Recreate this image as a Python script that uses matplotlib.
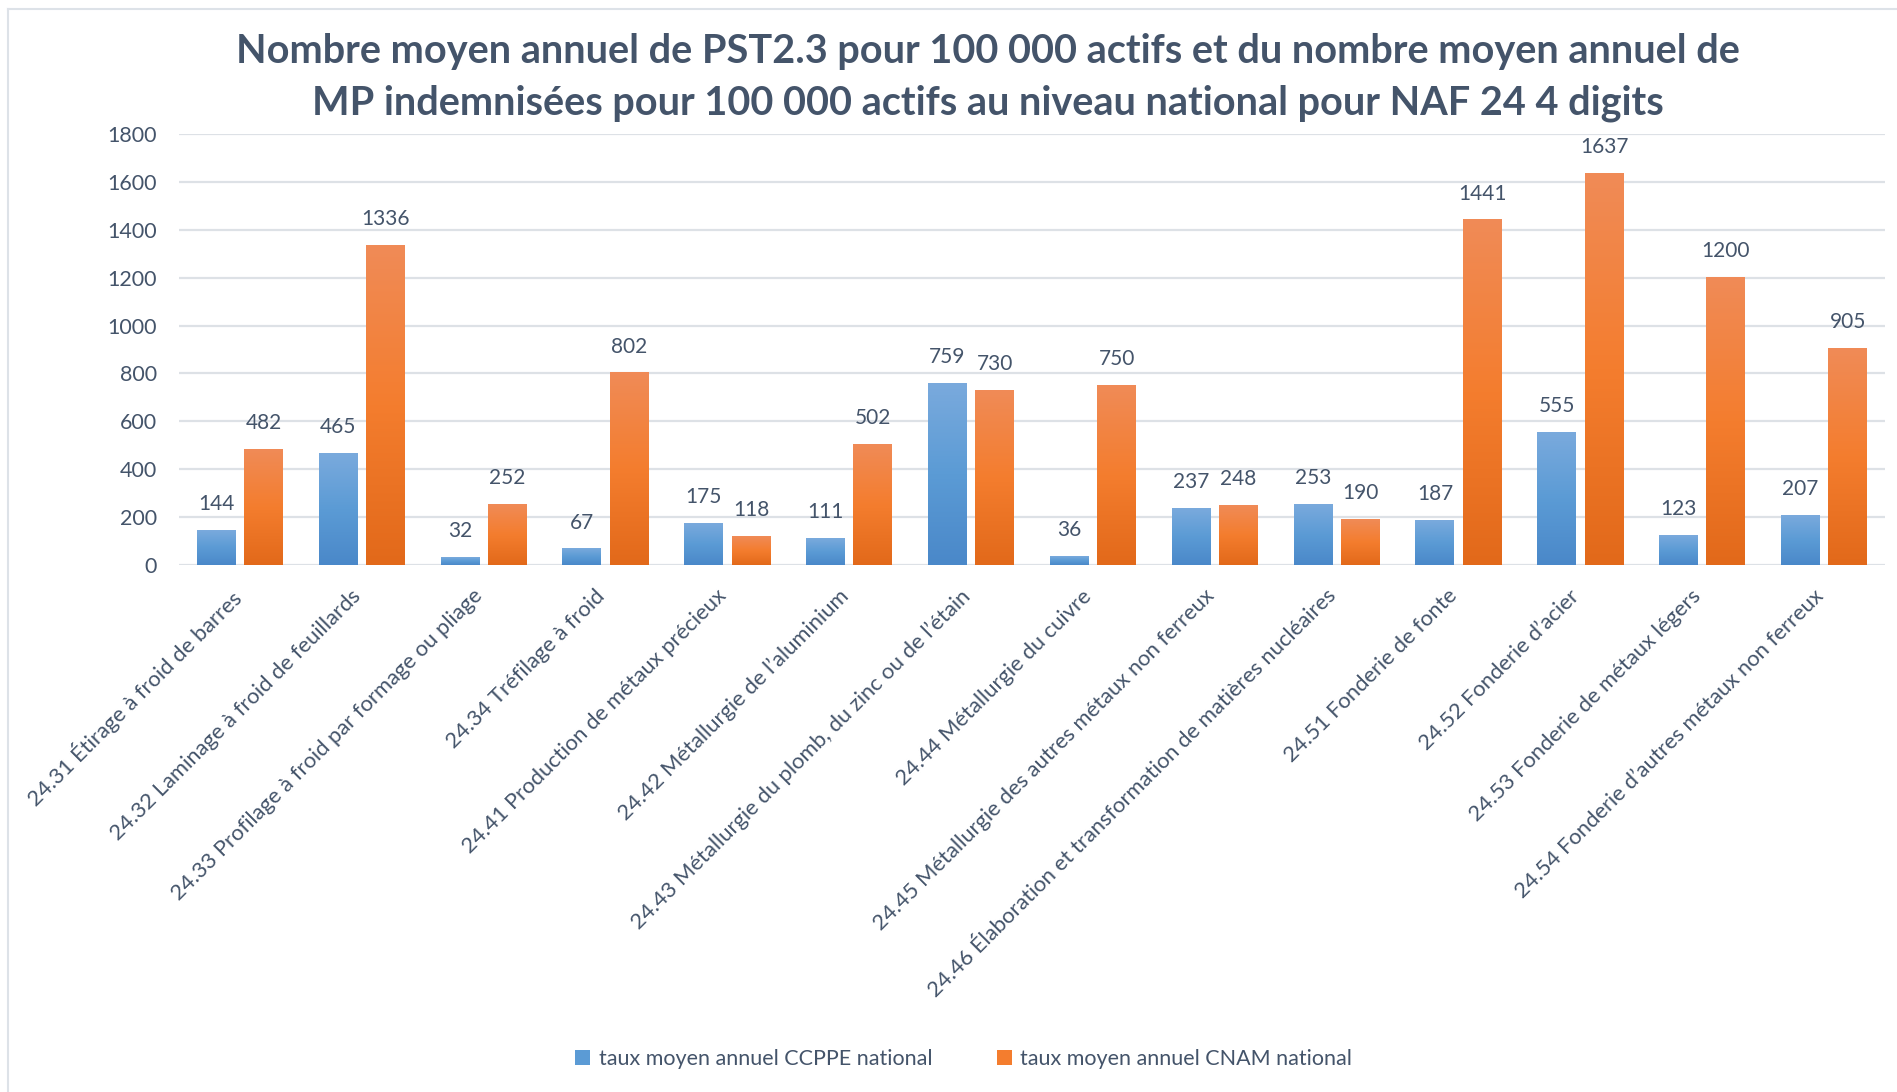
import numpy as np
import matplotlib
matplotlib.use('Agg')
import matplotlib.pyplot as plt
from matplotlib.colors import LinearSegmentedColormap
from matplotlib.lines import Line2D
from matplotlib.patches import Patch
from matplotlib.transforms import ScaledTranslation

plt.rcParams['font.family'] = ['Lato', 'DejaVu Sans']

categories = [
    '24.31 Étirage à froid de barres',
    '24.32 Laminage à froid de feuillards',
    '24.33 Profilage à froid par formage ou pliage',
    '24.34 Tréfilage à froid',
    '24.41 Production de métaux précieux',
    '24.42 Métallurgie de l’aluminium',
    '24.43 Métallurgie du plomb, du zinc ou de l’étain',
    '24.44 Métallurgie du cuivre',
    '24.45 Métallurgie des autres métaux non ferreux',
    '24.46 Élaboration et transformation de matières nucléaires',
    '24.51 Fonderie de fonte',
    '24.52 Fonderie d’acier',
    '24.53 Fonderie de métaux légers',
    '24.54 Fonderie d’autres métaux non ferreux',
]
ccppe = [144, 465, 32, 67, 175, 111, 759, 36, 237, 253, 187, 555, 123, 207]
cnam = [482, 1336, 252, 802, 118, 502, 730, 750, 248, 190, 1441, 1637, 1200, 905]
series_names = ['taux moyen annuel CCPPE national', 'taux moyen annuel CNAM national']
title = ('Nombre moyen annuel de PST2.3 pour 100 000 actifs et du nombre moyen annuel de\n'
         'MP indemnisées pour 100 000 actifs au niveau national pour NAF 24 4 digits')

txt = '#44546A'
grid_c = '#DDE1E6'
blue_cm = LinearSegmentedColormap.from_list('b', ['#4A88C9', '#5B9BD5', '#7AAADD'])
orange_cm = LinearSegmentedColormap.from_list('o', ['#E2691A', '#F47D2E', '#F08B57'])

fig = plt.figure(figsize=(18.97, 10.92), dpi=100)
ax = fig.add_axes([0.0944, 0.4826, 0.8993, 0.3947])

x = np.arange(len(categories))
w = 0.32
off = 0.194
b1 = ax.bar(x - off, ccppe, w, color='#5B9BD5', zorder=2)
b2 = ax.bar(x + off, cnam, w, color='#F47D2E', zorder=2)

# gradient fill on each bar
grad = np.linspace(0, 1, 256).reshape(-1, 1)
for bars, cm in ((b1, blue_cm), (b2, orange_cm)):
    for r in bars:
        x0, h = r.get_x(), r.get_height()
        ax.imshow(grad, extent=[x0, x0 + r.get_width(), 0, h], origin='lower',
                  aspect='auto', cmap=cm, zorder=3)
        ax.annotate(str(int(h)), (x0 + r.get_width() / 2, h), xytext=(0, 19),
                    textcoords='offset points', ha='center', va='center',
                    fontsize=15, color=txt)

ax.set_xlim(-0.5, len(categories) - 0.5)
ax.set_ylim(0, 1800)
ax.set_yticks(range(0, 1801, 200))
ax.yaxis.grid(True, color=grid_c, linewidth=1.6, zorder=0)
ax.set_axisbelow(True)
for s in ax.spines.values():
    s.set_visible(False)
ax.tick_params(axis='both', length=0, colors=txt)
ax.tick_params(axis='y', pad=16, labelsize=15.5)
ax.set_xticks(x)
ax.set_xticklabels(categories, rotation=45, ha='right', rotation_mode='anchor', fontsize=15.8)
ax.tick_params(axis='x', pad=15)
shift = ScaledTranslation(-8 / 72, 0, fig.dpi_scale_trans)
for lab in ax.get_xticklabels():
    lab.set_transform(lab.get_transform() + shift)

fig.text(0.521, 0.929, title, ha='center', va='center', fontsize=28.5,
         fontweight='bold', color=txt, linespacing=1.5)

handles = [Patch(facecolor='#5B9BD5'), Patch(facecolor='#F47D2E')]
fig.legend(handles, series_names, loc='center', bbox_to_anchor=(0.508, 0.030),
           ncol=2, frameon=False, fontsize=15.5, handlelength=0.7, handleheight=0.7,
           handletextpad=0.4, columnspacing=3.0, labelcolor=txt)

# chart border (left and top)
fig.add_artist(Line2D([8 / 1897, 8 / 1897], [0, 1 - 9 / 1092], color='#DDE2E8', lw=1.5))
fig.add_artist(Line2D([8 / 1897, 1], [1 - 9 / 1092, 1 - 9 / 1092], color='#DDE2E8', lw=1.5))

fig.savefig('out.png', dpi=100, facecolor='white')
